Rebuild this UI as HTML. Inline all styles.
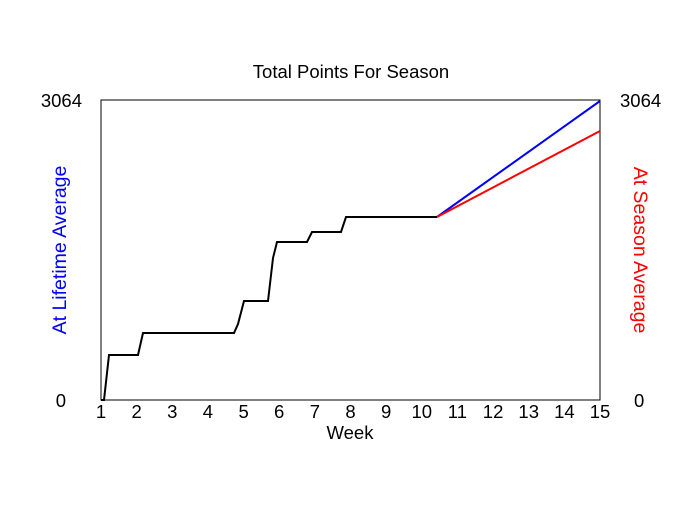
<!DOCTYPE html>
<html><head><style>body{margin:0;background:#fff}</style></head><body>
<svg width="700" height="500" xmlns="http://www.w3.org/2000/svg" font-family="Liberation Sans, sans-serif">
<rect width="700" height="500" fill="#fff"/>
<text x="351" y="78" font-size="18.5" text-anchor="middle">Total Points For Season</text>
<rect x="101" y="100" width="499" height="300" fill="none" stroke="#000" stroke-width="1"/>
<g font-size="18.5" text-anchor="middle">
<text x="101" y="418">1</text><text x="136.6" y="418">2</text><text x="172.3" y="418">3</text><text x="207.9" y="418">4</text><text x="243.6" y="418">5</text><text x="279.2" y="418">6</text><text x="314.9" y="418">7</text><text x="350.5" y="418">8</text><text x="386.1" y="418">9</text><text x="421.8" y="418">10</text><text x="457.4" y="418">11</text><text x="493.1" y="418">12</text><text x="528.7" y="418">13</text><text x="564.4" y="418">14</text><text x="600" y="418">15</text>
<text x="350" y="439">Week</text>
</g>
<g font-size="18.5">
<text x="82" y="107" text-anchor="end">3064</text><text x="66" y="407" text-anchor="end">0</text>
<text x="620" y="107">3064</text><text x="634" y="407">0</text>
</g>
<text transform="translate(66,250) rotate(-90)" font-size="19.5" fill="#0000ff" text-anchor="middle">At Lifetime Average</text>
<text transform="translate(634,250) rotate(90)" font-size="19.5" fill="#ff0000" text-anchor="middle">At Season Average</text>
<polyline fill="none" stroke="#0000ff" stroke-width="2" points="437,217 600,101"/>
<polyline fill="none" stroke="#ff0000" stroke-width="2" points="437,217 600,131"/>
<polyline fill="none" stroke="#000" stroke-width="2" points="101,400 104,400 109,355 138,355 143,333 234,333 238,324 244,301 268,301 273,258 277,242 307,242 312,232 341,232 346,217 437,217"/>
</svg>
</body></html>
